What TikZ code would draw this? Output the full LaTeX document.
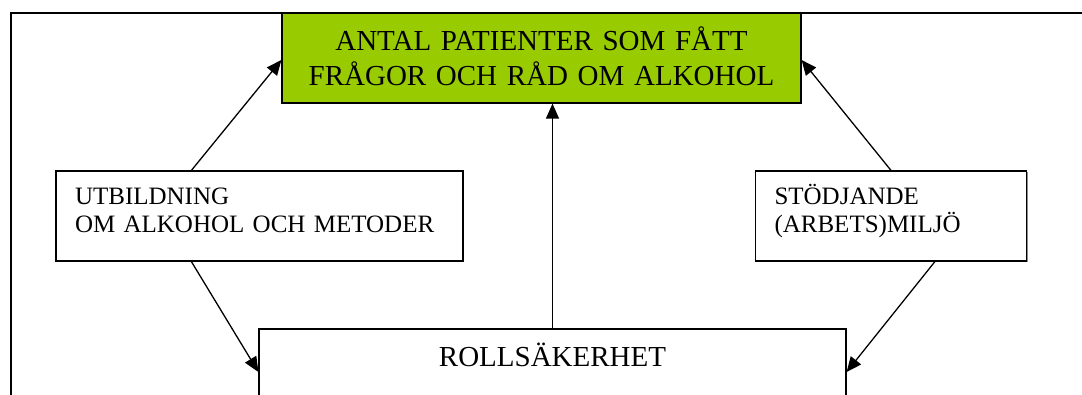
\documentclass[tikz,border=0pt]{standalone}
\usepackage{fontspec}
\setmainfont{Liberation Serif}
\usetikzlibrary{arrows.meta}
\usetikzlibrary{shadows}
\definecolor{antalgreen}{HTML}{99CC00}

\tikzset{
 box/.style={draw=black, line width=1.2pt, fill=white, inner sep=0pt,
  drop shadow={shadow xshift=1pt, shadow yshift=-1pt, fill=black, opacity=.45}},
 sidebox/.style={box, minimum height=90pt, inner xsep=19pt, align=left,
  font=\fontsize{25}{28}\selectfont, text height=16.7pt, text depth=40.7pt},
 bigtext/.style={font=\fontsize{29}{35}\selectfont},
 link/.style={->, line width=1.3pt}
}

\begin{document}
\begin{tikzpicture}[x=1pt, y=-1pt, >={Triangle[length=15pt,width=13pt]}]
\useasboundingbox (0,0) rectangle (1082,394);
% outer frame
\draw[line width=2pt] (11,430) -- (11,13) -- (1100,13);

% boxes
\node[box, bigtext, fill=antalgreen, minimum height=90pt, text width=481pt, inner xsep=19pt,
  align=center, text height=20pt, text depth=36pt] (antal) at (541.5,58)
  {ANTAL PATIENTER SOM FÅTT\\FRÅGOR OCH RÅD OM ALKOHOL};
\node[sidebox, text width=369pt] (utb) at (259.5,216) {UTBILDNING\\OM ALKOHOL OCH METODER};
\node[sidebox, text width=233pt] (stod) at (891,216) {STÖDJANDE\\(ARBETS)MILJÖ};
\node[box, bigtext, minimum width=587pt, minimum height=86pt,
  text height=20pt, text depth=32pt] (roll) at (552.5,372) {ROLLSÄKERHET};

% arrows
\draw[link] ([xshift=136pt]utb.north west) -- ([yshift=-2pt]antal.west);
\draw[link] (stod.north) -- ([yshift=-2pt]antal.east);
\draw[link] (roll.north) -- (roll.north |- antal.south);
\draw[link] ([xshift=136pt]utb.south west) -- (roll.west);
\draw[link] ([xshift=180pt]stod.south west) -- (roll.east);
\end{tikzpicture}
\end{document}
